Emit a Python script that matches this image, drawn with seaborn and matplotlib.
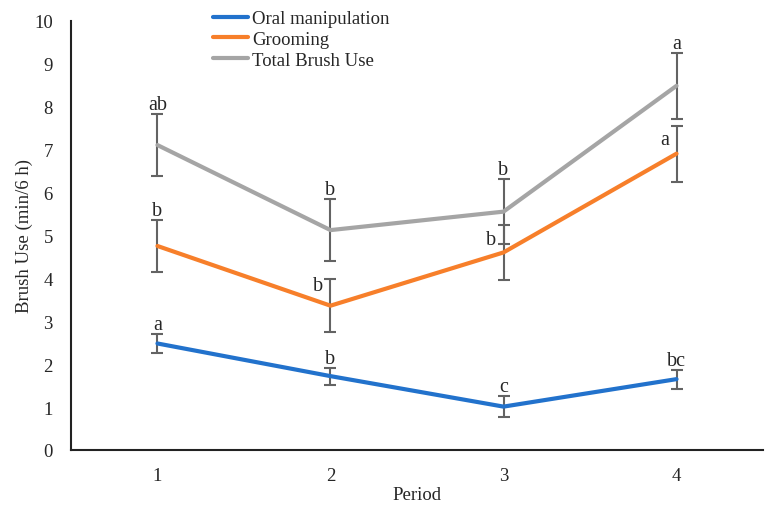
import pandas as pd
import matplotlib
matplotlib.use("Agg")
import matplotlib.pyplot as plt
import seaborn as sns

# data
periods = [1, 2, 3, 4]
oral = [2.48, 1.72, 1.01, 1.65]
oral_err = [0.22, 0.20, 0.24, 0.22]
grooming = [4.75, 3.36, 4.60, 6.90]
grooming_err = [0.60, 0.61, 0.65, 0.65]
total = [7.10, 5.12, 5.55, 8.48]
total_err = [0.72, 0.72, 0.76, 0.77]
series_names = ["Oral manipulation", "Grooming", "Total Brush Use"]
oral_letters = ["a", "b", "c", "bc"]
grooming_letters = ["b", "b", "b", "a"]
total_letters = ["ab", "b", "b", "a"]

colors = ["#2272CC", "#F77F2A", "#A5A5A5"]

df = pd.DataFrame({
    "Period": periods * 3,
    "value": oral + grooming + total,
    "err": oral_err + grooming_err + total_err,
    "series": [s for s in series_names for _ in periods],
    "letter": oral_letters + grooming_letters + total_letters,
})

sns.set_style("white")
plt.rcParams["font.family"] = ["Liberation Serif", "DejaVu Serif"]
plt.rcParams["font.size"] = 13.5

fig = plt.figure(figsize=(7.73, 5.10), dpi=100)
ax = fig.add_axes([0.0918, 0.1157, 0.8953, 0.8421])

sns.lineplot(data=df, x="Period", y="value", hue="series", palette=colors,
             linewidth=3, ax=ax, legend=True)

# error bars and significance letters
for name in series_names:
    sub = df[df["series"] == name]
    ax.errorbar(sub["Period"], sub["value"], yerr=sub["err"], fmt="none",
                ecolor="#636363", elinewidth=1.5, capsize=4, capthick=1.5, zorder=1)
    for x, y, e, lab in zip(sub["Period"], sub["value"], sub["err"], sub["letter"]):
        if name == "Grooming" and x > 1:
            # placed to the left of the bar where the total bar is in the way
            yy = y + e - 0.15 if x == 2 else (y + e * 0.5 if x == 4 else y + e - 0.35)
            ax.text(x - 0.04, yy, lab, ha="right", va="center", fontsize=14.5)
        else:
            ax.text(x, y + e + 0.0, lab, ha="center", va="bottom", fontsize=14.5)

ax.set_xlim(0.5, 4.5)
ax.set_ylim(0, 10)
ax.set_xticks(periods)
ax.set_yticks(range(0, 11))
ax.tick_params(axis="both", length=0, labelsize=13.5, colors="#262626")
ax.tick_params(axis="y", pad=13)
ax.tick_params(axis="x", pad=12)
ax.set_xlabel("Period", fontsize=13.5, labelpad=2)
ax.set_ylabel("Brush Use (min/6 h)", fontsize=13.5, labelpad=1)

sns.despine(ax=ax)
for s in ["left", "bottom"]:
    ax.spines[s].set_color("#222222")
    ax.spines[s].set_linewidth(1.5)

leg = ax.legend(loc="upper left", bbox_to_anchor=(0.194, 1.042), frameon=False,
                fontsize=13.5, handlelength=1.9, handletextpad=0.2,
                labelspacing=0.2, borderaxespad=0)
leg.set_title(None)

fig.savefig("out.png", dpi=100)
